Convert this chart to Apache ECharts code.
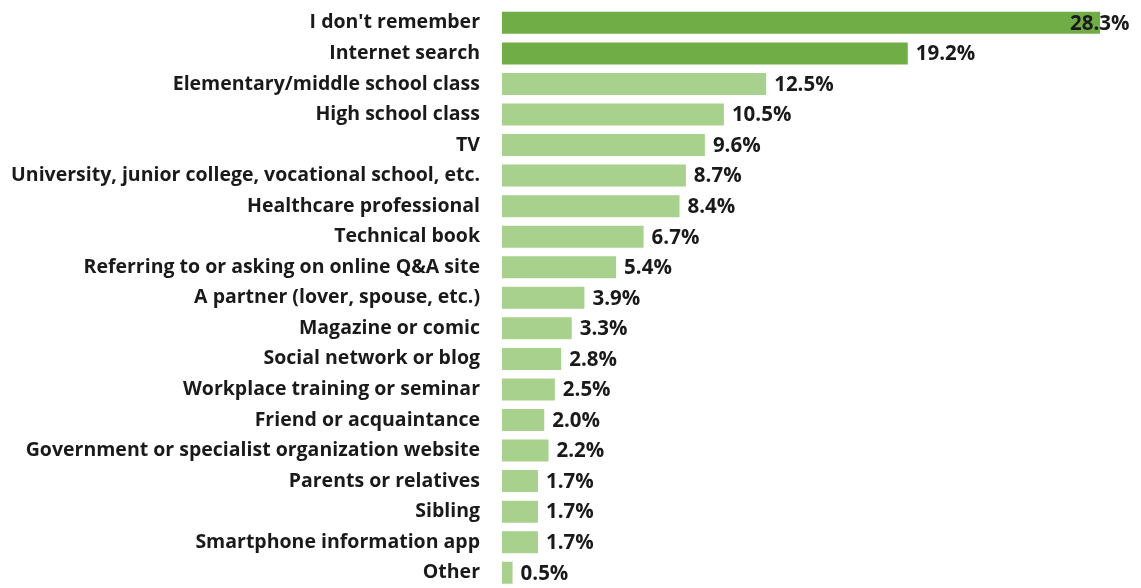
<!DOCTYPE html>
<html>
<head>
<meta charset="utf-8">
<script src="https://cdn.jsdelivr.net/npm/echarts@6/dist/echarts.min.js"></script>
<style>
  html, body { margin: 0; padding: 0; background: #ffffff; }
  #chart { width: 1141px; height: 588px; }
</style>
</head>
<body>
<div id="chart"></div>
<script>
// Where respondents learned about the topic (share of answers, %)
const categories = [
  "I don't remember",
  "Internet search",
  "Elementary/middle school class",
  "High school class",
  "TV",
  "University, junior college, vocational school, etc.",
  "Healthcare professional",
  "Technical book",
  "Referring to or asking on online Q&A site",
  "A partner (lover, spouse, etc.)",
  "Magazine or comic",
  "Social network or blog",
  "Workplace training or seminar",
  "Friend or acquaintance",
  "Government or specialist organization website",
  "Parents or relatives",
  "Sibling",
  "Smartphone information app",
  "Other"
];
const values = [28.3, 19.2, 12.5, 10.5, 9.6, 8.7, 8.4, 6.7, 5.4, 3.9, 3.3, 2.8, 2.5, 2.0, 2.2, 1.7, 1.7, 1.7, 0.5];
// the two leading answers are highlighted in a darker green
const highlighted = [true, true, false, false, false, false, false, false, false, false, false, false, false, false, false, false, false, false, false];

const DARK = '#70AD47';
const LIGHT = '#A9D18E';
const FONT = '"Open Sans", "Noto Sans", sans-serif';

const seriesData = values.map((v, i) => {
  const item = { value: v, itemStyle: { color: highlighted[i] ? DARK : LIGHT } };
  if (i === 0) {
    // top label sits over the end of the longest bar
    item.label = { offset: [-38, 1] };
  }
  return item;
});

const chart = echarts.init(document.getElementById('chart'));
chart.setOption({
  animation: false,
  backgroundColor: '#ffffff',
  grid: { left: 502, right: 5, top: 7.6, bottom: -3.4, containLabel: false },
  xAxis: {
    type: 'value',
    min: 0,
    max: 30,
    show: false
  },
  yAxis: {
    type: 'category',
    data: categories,
    inverse: true,
    axisLine: { show: false },
    axisTick: { show: false },
    splitLine: { show: false },
    axisLabel: {
      margin: 22,
      color: '#1a1a1a',
      fontFamily: FONT,
      fontWeight: 700,
      fontSize: 19.5
    }
  },
  series: [{
    type: 'bar',
    data: seriesData,
    barWidth: 22,
    label: {
      show: true,
      position: 'right',
      distance: 8,
      offset: [0, 1],
      formatter: p => p.value.toFixed(1) + '%',
      color: '#1a1a1a',
      fontFamily: FONT,
      fontWeight: 700,
      fontSize: 20.5
    }
  }]
});
</script>
</body>
</html>
